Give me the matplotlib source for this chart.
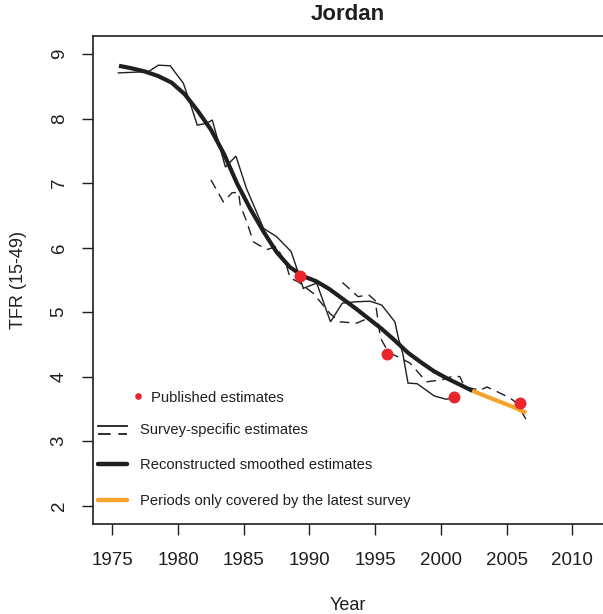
import matplotlib
matplotlib.use("Agg")
import matplotlib.pyplot as plt
from matplotlib.lines import Line2D
from matplotlib.legend_handler import HandlerBase

plt.rcParams['font.family'] = ['Liberation Sans', 'DejaVu Sans']

# ---------------- data ----------------
title = "Jordan"
x_label = "Year"
y_label = "TFR (15-49)"
x_ticks = [1975, 1980, 1985, 1990, 1995, 2000, 2005, 2010]
y_ticks = [2, 3, 4, 5, 6, 7, 8, 9]

smooth_years = [1975.5, 1976.5, 1977.5, 1978.5, 1979.5, 1980.5, 1981.5, 1982.5,
                1983.5, 1984.5, 1985.5, 1986.5, 1987.5, 1988.5, 1989.5, 1990.5,
                1991.5, 1992.5, 1993.5, 1994.5, 1995.5, 1996.5, 1997.5, 1998.5,
                1999.5, 2000.5, 2001.5, 2002.4]
smooth_tfr = [8.82, 8.78, 8.73, 8.66, 8.56, 8.38, 8.12, 7.83,
              7.45, 6.99, 6.60, 6.25, 5.93, 5.70, 5.56, 5.48,
              5.36, 5.21, 5.06, 4.90, 4.74, 4.56, 4.37, 4.22,
              4.08, 3.97, 3.87, 3.78]

latest_years = [2002.4, 2003.5, 2004.5, 2005.5, 2006.5]
latest_tfr = [3.78, 3.69, 3.61, 3.53, 3.44]

published_years = [1989.3, 1995.9, 2001.0, 2006.0]
published_tfr = [5.56, 4.35, 3.68, 3.59]

# survey-specific estimates (solid)
s1_years = [1975.45, 1977.74, 1978.5, 1979.4, 1980.4, 1980.9, 1981.46, 1982.2,
            1982.6, 1983.6, 1984.4, 1985.2, 1986.5, 1987.5, 1988.6, 1989.0, 1989.53]
s1_tfr = [8.71, 8.73, 8.83, 8.82, 8.55, 8.25, 7.90, 7.93,
          7.98, 7.25, 7.42, 6.92, 6.30, 6.17, 5.94, 5.70, 5.37]

s3_years = [1989.53, 1990.55, 1991.6, 1992.5, 1993.5, 1994.6, 1995.5, 1996.5,
            1996.8, 1997.1, 1997.5, 1998.2, 1999.5, 2000.4, 2001.0]
s3_tfr = [5.37, 5.45, 4.85, 5.14, 5.16, 5.17, 5.11, 4.85,
          4.57, 4.36, 3.90, 3.89, 3.70, 3.65, 3.67]

# survey-specific estimates (dashed)
d1_years = [1982.5, 1983.45, 1984.1, 1984.6, 1984.73, 1985.23, 1985.73, 1986.75,
            1987.5, 1988.27, 1988.52, 1989.15, 1990.3, 1991.55, 1992.3, 1993.6, 1994.5]
d1_tfr = [7.05, 6.71, 6.85, 6.86, 6.66, 6.40, 6.09, 5.97,
          6.02, 5.71, 5.53, 5.47, 5.29, 4.98, 4.85, 4.83, 4.91]

d2_years = [1992.5, 1993.0, 1993.7, 1994.5, 1995.0, 1995.4, 1996.0, 1997.0,
            1997.65, 1998.9, 2000.06, 2000.95, 2001.45, 2001.8, 2003.0, 2003.5,
            2004.25, 2005.26, 2005.77, 2006.5]
d2_tfr = [5.46, 5.37, 5.24, 5.27, 5.18, 4.60, 4.38, 4.28,
          4.21, 3.92, 3.95, 4.01, 4.00, 3.84, 3.79, 3.84,
          3.77, 3.67, 3.59, 3.33]

legend_labels = ["Published estimates", "Survey-specific estimates",
                 "Reconstructed smoothed estimates",
                 "Periods only covered by the latest survey"]

# ---------------- style ----------------
INK = '#1f1f1f'
RED = '#e8262b'
ORANGE = '#f4a42c'
DASH = (0, (7, 4.5))

fig = plt.figure(figsize=(6.03, 6.14), dpi=100)
W, H = 603, 614
ax_l, ax_r, ax_t, ax_b = 92.7, 603, 35.5, 524
ax = fig.add_axes([ax_l / W, 1 - ax_b / H, (ax_r - ax_l) / W, (ax_b - ax_t) / H])

for ys, vs in [(s1_years, s1_tfr), (s3_years, s3_tfr)]:
    ax.plot(ys, vs, color=INK, lw=1.0, solid_joinstyle='miter')
for ys, vs in [(d1_years, d1_tfr), (d2_years, d2_tfr)]:
    ax.plot(ys, vs, color=INK, lw=1.0, linestyle=DASH)

ax.plot(smooth_years, smooth_tfr, color=INK, lw=3.0, solid_capstyle='butt')
ax.plot(latest_years, latest_tfr, color=ORANGE, lw=3.0, solid_capstyle='butt')
ax.plot(published_years, published_tfr, 'o', color=RED, ms=8.6, mec='none', zorder=5)

ax.set_xlim(1973.5, 2012.34)
ax.set_ylim(1.715, 9.29)
ax.set_xticks(x_ticks)
ax.set_xticklabels([str(t) for t in x_ticks])
ax.set_yticks(y_ticks)
ax.set_yticklabels([str(t) for t in y_ticks], rotation=90, va='center')

for s in ['left', 'bottom', 'top']:
    ax.spines[s].set_linewidth(1.2)
    ax.spines[s].set_color(INK)
ax.spines['right'].set_visible(False)

ax.tick_params(axis='both', length=8, width=1.0, color=INK, labelcolor=INK,
               labelsize=13.5)
ax.tick_params(axis='x', pad=12)
ax.tick_params(axis='y', pad=10)

ax.set_title(title, fontsize=16, fontweight='bold', color=INK, pad=11)
ax.set_xlabel(x_label, fontsize=13, color=INK, labelpad=20)
ax.set_ylabel(y_label, fontsize=13, color=INK, labelpad=17)


class HandlerStack(HandlerBase):
    def create_artists(self, legend, orig_handle, xdescent, ydescent,
                       width, height, fontsize, trans):
        x0, x1 = -xdescent, -xdescent + width
        yc = (height - ydescent) / 2
        top = Line2D([x0, x1], [yc + 2.2, yc + 2.2], color=INK, lw=1.3,
                     transform=trans)
        bot = Line2D([x0, x1], [yc - 4.0, yc - 4.0], color=INK, lw=1.3,
                     linestyle=(0, (7, 4.3)), transform=trans)
        return [top, bot]


pub_handle = Line2D([], [], marker='o', color=RED, ls='none', ms=4.8, mec='none')
survey_handle = Line2D([], [], color=INK)
smooth_handle = Line2D([], [], color=INK, lw=3.2, solid_capstyle='round')
latest_handle = Line2D([], [], color=ORANGE, lw=3.2, solid_capstyle='round')

fs = 10.6
axw = ax_r - ax_l
axh = ax_b - ax_t
leg1 = ax.legend([pub_handle], [legend_labels[0]], loc='upper left',
                 bbox_to_anchor=((133 - ax_l) / axw, (ax_b - 390.5) / axh),
                 frameon=False, fontsize=fs, borderpad=0, borderaxespad=0,
                 handlelength=0.7, handletextpad=0.55, numpoints=1,
                 labelcolor=INK)
ax.add_artist(leg1)
leg2 = ax.legend([survey_handle, smooth_handle, latest_handle], legend_labels[1:],
                 loc='upper left',
                 bbox_to_anchor=((98 - ax_l) / axw, (ax_b - 423.0) / axh),
                 frameon=False, fontsize=fs, borderpad=0, borderaxespad=0,
                 handlelength=2.0, handletextpad=0.85, labelspacing=1.45,
                 handler_map={survey_handle: HandlerStack()}, labelcolor=INK)

fig.savefig("out.png", dpi=100)
